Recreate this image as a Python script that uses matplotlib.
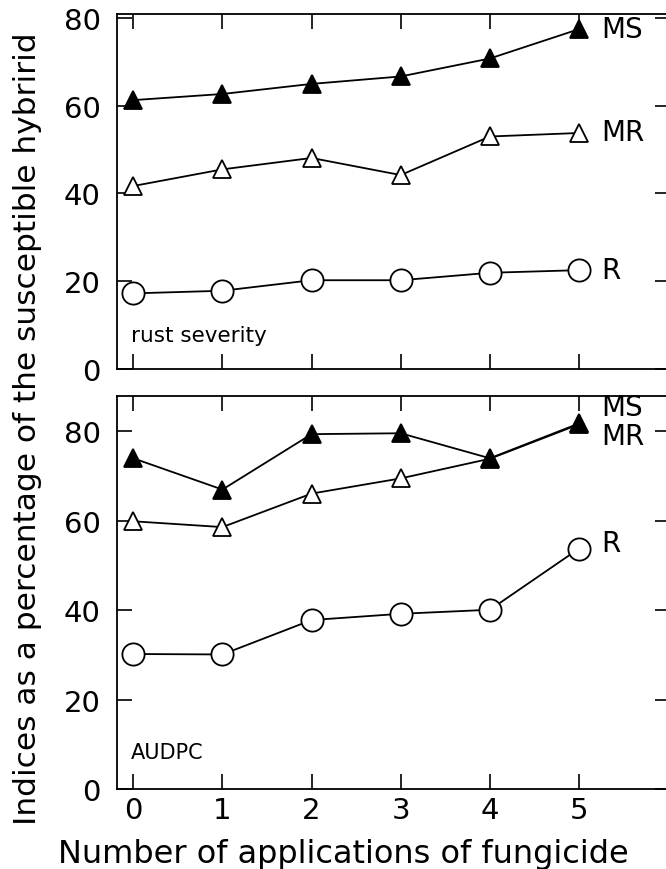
import matplotlib.pyplot as plt

# number of fungicide applications
aplicacoes = [0, 1, 2, 3, 4, 5]
xticks = [0, 1, 2, 3, 4, 5]

# rust severity (% of susceptible hybrid)
sev_ms = [61.3, 62.7, 65.0, 66.7, 70.8, 77.5]
sev_mr = [41.7, 45.5, 48.1, 44.2, 53.0, 53.8]
sev_r = [17.2, 17.8, 20.2, 20.2, 21.9, 22.5]

# AUDPC (% of susceptible hybrid)
aud_ms = [74.0, 67.0, 79.4, 79.6, 74.0, 81.8]
aud_mr = [59.9, 58.6, 66.1, 69.5, 73.9, 81.6]
aud_r = [30.2, 30.1, 37.8, 39.2, 40.1, 53.8]

yticks = [0, 20, 40, 60, 80]

plt.rcParams['font.family'] = ['DejaVu Sans']

fig = plt.figure(figsize=(6.66, 8.7), dpi=100)
ax1 = fig.add_axes([0.176, 0.575, 0.83, 0.408])
ax2 = fig.add_axes([0.176, 0.092, 0.83, 0.452])


def desenhar(ax, ms, mr, r, ymax, rotulo, tam, pos_lab):
    ax.plot(aplicacoes, r, color='black', lw=1.3, marker='o', ms=16,
            mfc='white', mec='black', mew=1.3, zorder=3)
    ax.plot(aplicacoes, mr, color='black', lw=1.3, marker='^', ms=13,
            mfc='white', mec='black', mew=1.3, zorder=4)
    ax.plot(aplicacoes, ms, color='black', lw=1.3, marker='^', ms=13,
            mfc='black', mec='black', mew=1.3, zorder=5)
    ax.set_xlim(-0.18, 6.02)
    ax.set_ylim(0, ymax)
    ax.set_yticks(yticks)
    ax.set_xticks(xticks)
    ax.tick_params(direction='in', length=11, width=1.2, labelsize=21,
                   top=True, right=True)
    ax.tick_params(axis='y', pad=12)
    ax.tick_params(axis='x', pad=5)
    for s in ax.spines.values():
        s.set_linewidth(1.3)
    ax.text(0.025, 0.095, rotulo, transform=ax.transAxes, fontsize=tam,
            ha='left', va='center')
    for nome, y in pos_lab:
        ax.text(5.25, y, nome, fontsize=20, ha='left', va='center')


desenhar(ax1, sev_ms, sev_mr, sev_r, 81, 'rust severity', 15.5,
         [('MS', 77.5), ('MR', 54.0), ('R', 22.5)])
desenhar(ax2, aud_ms, aud_mr, aud_r, 88, 'AUDPC', 15,
         [('MS', 85.5), ('MR', 79.0), ('R', 55.0)])
ax1.set_xticklabels([])

ax2.set_xlabel('Number of applications of fungicide', fontsize=23)
ax2.xaxis.set_label_coords(0.41, -0.125)
fig.text(0.042, 0.507, 'Indices as a percentage of the susceptible hybririd',
         rotation=90, fontsize=22.5, ha='center', va='center')

fig.savefig('out.png', dpi=100)
